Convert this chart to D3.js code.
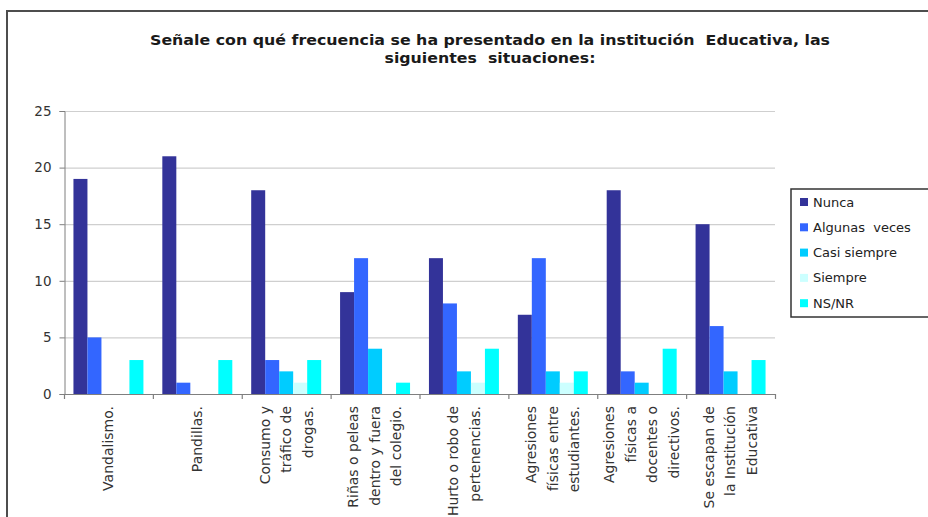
<!DOCTYPE html>
<html>
<head>
<meta charset="utf-8">
<script src="https://cdn.jsdelivr.net/npm/d3@7"></script>
<style>
  html, body { margin: 0; padding: 0; background: #fff; }
  svg { display: block; }
  text { white-space: pre; }
</style>
</head>
<body>
<svg id="chart" width="928" height="517"></svg>
<script>
// ---- data ----
const categories = [
  ["Vandalismo."],
  ["Pandillas."],
  ["Consumo y", "tráfico de", "drogas."],
  ["Riñas o peleas", "dentro y fuera", "del colegio."],
  ["Hurto o robo de", "pertenencias."],
  ["Agresiones", "físicas entre", "estudiantes."],
  ["Agresiones", "físicas a", "docentes o", "directivos."],
  ["Se escapan de", "la Institución", "Educativa"]
];
const seriesNames = ["Nunca", "Algunas  veces", "Casi siempre", "Siempre", "NS/NR"];
const nunca        = [19, 21, 18, 9, 12, 7, 18, 15];
const algunasVeces = [5, 1, 3, 12, 8, 12, 2, 6];
const casiSiempre  = [0, 0, 2, 4, 2, 2, 1, 2];
const siempre      = [0, 0, 1, 0, 1, 1, 0, 0];
const nsnr         = [3, 3, 3, 1, 4, 2, 4, 3];
const yTicks = [0, 5, 10, 15, 20, 25];
const titleLines = [
  "Señale con qué frecuencia se ha presentado en la institución  Educativa, las",
  "siguientes  situaciones:"
];
const colors = ["#333399", "#3366FF", "#00CCFF", "#CCFFFF", "#00FFFF"];

const seriesValues = [nunca, algunasVeces, casiSiempre, siempre, nsnr];

// ---- layout ----
const svg = d3.select("#chart");
const plotL = 64, plotR = 775, plotT = 111, plotB = 394;

const x = d3.scaleBand().domain(d3.range(categories.length)).range([plotL, plotR]).paddingInner(0).paddingOuter(0);
const xs = d3.scaleBand().domain(d3.range(seriesNames.length)).range([0, x.bandwidth()]).paddingInner(0).paddingOuter(0.675);
const y = d3.scaleLinear().domain([0, 25]).range([plotB, plotT]);

// frame
svg.append("path")
  .attr("d", `M7,517 L7,11 L928,11`)
  .attr("fill", "none").attr("stroke", "#4d4d4d").attr("stroke-width", 2);

// title
svg.append("g").selectAll("text").data(titleLines).join("text")
  .attr("x", 490).attr("y", (d, i) => 45 + i * 18)
  .attr("text-anchor", "middle")
  .attr("font-family", "DejaVu Sans, Verdana, sans-serif")
  .attr("font-weight", "bold")
  .attr("font-size", 14)
  .attr("fill", "#1a1a1a")
  .attr("textLength", (d, i) => i === 0 ? 680 : 211)
  .attr("lengthAdjust", "spacingAndGlyphs")
  .text(d => d);

// gridlines
svg.append("g").selectAll("line").data(yTicks.filter(t => t > 0)).join("line")
  .attr("x1", plotL).attr("x2", plotR)
  .attr("y1", d => y(d) + 0.5).attr("y2", d => y(d) + 0.5)
  .attr("stroke", "#cfcfcf").attr("stroke-width", 1.2);

// y axis
const yAxis = svg.append("g").attr("transform", `translate(${plotL + 0.5},0)`)
  .call(d3.axisLeft(y).tickValues(yTicks).tickSize(5).tickPadding(8));
yAxis.select(".domain").attr("stroke", "#7f7f7f");
yAxis.selectAll(".tick line").attr("stroke", "#7f7f7f");
yAxis.selectAll(".tick text")
  .attr("font-family", "DejaVu Sans, Verdana, sans-serif")
  .attr("font-size", 13.5).attr("fill", "#333");

// bars
const groups = svg.append("g").selectAll("g").data(categories).join("g")
  .attr("transform", (d, i) => `translate(${x(i)},0)`);
groups.each(function(c, ci) {
  d3.select(this).selectAll("rect").data(seriesValues.map((s, si) => ({si, v: s[ci]}))).join("rect")
    .attr("x", d => xs(d.si))
    .attr("width", xs.bandwidth())
    .attr("y", d => y(d.v))
    .attr("height", d => y(0) - y(d.v))
    .attr("fill", d => colors[d.si]);
});

// x axis
const xAxisG = svg.append("g");
xAxisG.append("line").attr("x1", plotL).attr("x2", plotR + 1)
  .attr("y1", plotB + 0.5).attr("y2", plotB + 0.5)
  .attr("stroke", "#7f7f7f").attr("stroke-width", 1.2);
xAxisG.selectAll("line.tk").data(d3.range(categories.length + 1)).join("line")
  .attr("class", "tk")
  .attr("x1", i => plotL + i * x.step() + 0.5).attr("x2", i => plotL + i * x.step() + 0.5)
  .attr("y1", plotB).attr("y2", plotB + 5)
  .attr("stroke", "#7f7f7f").attr("stroke-width", 1.2);

// category labels
const labG = svg.append("g");
categories.forEach((lines, ci) => {
  const cx = x(ci) + x.bandwidth() / 2;
  const n = lines.length;
  lines.forEach((ln, li) => {
    const lx = cx + (li - (n - 1) / 2) * 21.5;
    labG.append("text")
      .attr("transform", `translate(${lx},406) rotate(-90)`)
      .attr("text-anchor", "end")
      .attr("dy", "0.35em")
      .attr("font-family", "DejaVu Sans, Verdana, sans-serif")
      .attr("font-size", 14)
      .attr("fill", "#333")
      .text(ln);
  });
});

// legend
const lg = svg.append("g");
lg.append("rect").attr("x", 791).attr("y", 189).attr("width", 150).attr("height", 128)
  .attr("fill", "#fff").attr("stroke", "#333").attr("stroke-width", 1.5);
seriesNames.forEach((name, i) => {
  const cy = 202 + i * 25.3;
  lg.append("rect").attr("x", 800).attr("y", cy - 4).attr("width", 8).attr("height", 8).attr("fill", colors[i]);
  lg.append("text").attr("x", 813).attr("y", cy).attr("dy", "0.35em")
    .attr("font-family", "DejaVu Sans, Verdana, sans-serif")
    .attr("font-size", 13).attr("fill", "#222")
    .text(name);
});
</script>
</body>
</html>
